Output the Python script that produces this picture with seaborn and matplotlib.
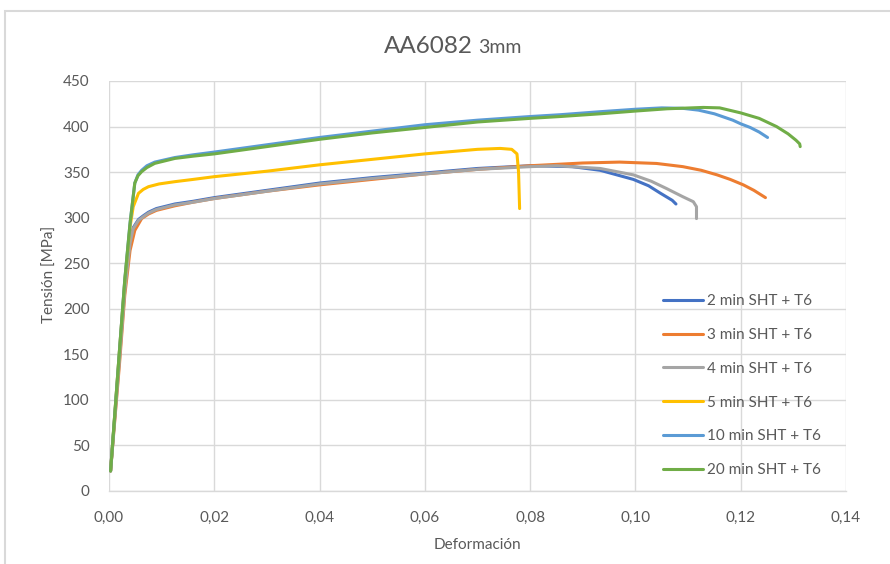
import numpy as np
import pandas as pd
import matplotlib
matplotlib.use("Agg")
import matplotlib.pyplot as plt
from matplotlib.patches import Rectangle
from matplotlib.ticker import FuncFormatter, MultipleLocator
import seaborn as sns

# Stress-strain curves, AA6082 3 mm, different solution heat treatment times
series_names = ["2 min SHT + T6", "3 min SHT + T6", "4 min SHT + T6",
                "5 min SHT + T6", "10 min SHT + T6", "20 min SHT + T6"]

strain_2 = [0.0003, 0.002, 0.003, 0.004, 0.0046, 0.0056, 0.0065, 0.0075, 0.009, 0.0125,
            0.016, 0.02, 0.03, 0.04, 0.05, 0.06, 0.07, 0.08, 0.088, 0.0933, 0.0996,
            0.1025, 0.1047, 0.107, 0.1077]
stress_2 = [22, 150, 225, 275, 289, 298, 302, 306, 310, 315,
            318, 322, 330, 338, 344, 349, 354, 357, 356, 352, 342,
            335, 327, 319, 315]

strain_3 = [0.0003, 0.002, 0.003, 0.004, 0.0049, 0.0062, 0.0075, 0.009, 0.0125, 0.016,
            0.02, 0.03, 0.04, 0.05, 0.06, 0.07, 0.08, 0.09, 0.097, 0.104, 0.109,
            0.1125, 0.1155, 0.118, 0.1205, 0.1225, 0.1247]
stress_3 = [22, 140, 215, 264, 286, 299, 304, 308, 313, 317,
            321, 329, 336, 342, 348, 353, 357, 360, 361, 359.5, 356,
            352, 347, 342, 336, 330, 322]

strain_4 = [0.0003, 0.002, 0.003, 0.004, 0.0046, 0.0056, 0.0065, 0.0075, 0.009, 0.0125,
            0.016, 0.02, 0.03, 0.04, 0.05, 0.06, 0.07, 0.08, 0.085, 0.0933, 0.0996,
            0.103, 0.1059, 0.109, 0.111, 0.1116, 0.1116]
stress_4 = [22, 145, 220, 272, 288, 297, 301, 305, 309, 314,
            317, 321, 329, 337, 343, 348, 353, 356, 357, 354, 347,
            340, 332, 323, 317.5, 312, 299]

strain_5 = [0.0003, 0.002, 0.003, 0.004, 0.0046, 0.0056, 0.0065, 0.0075, 0.0095, 0.0125,
            0.016, 0.02, 0.03, 0.04, 0.05, 0.06, 0.066, 0.07, 0.0743, 0.0765, 0.0775,
            0.0778, 0.0779, 0.078]
stress_5 = [22, 155, 230, 290, 312, 326.7, 331, 334, 337, 339.5,
            342, 345, 351, 358, 364, 370, 373, 375, 376, 375, 370,
            350, 330, 310]

strain_10 = [0.0003, 0.002, 0.003, 0.004, 0.0049, 0.0055, 0.0062, 0.0072, 0.0087, 0.0125,
             0.016, 0.02, 0.03, 0.04, 0.05, 0.06, 0.07, 0.08, 0.0857, 0.0933, 0.1,
             0.105, 0.109, 0.112, 0.115, 0.1185, 0.12, 0.1218, 0.1235, 0.1251]
stress_10 = [22, 155, 232, 294, 338, 347, 352, 357, 361, 366,
             369, 372, 380, 388, 395, 402, 407, 411, 413, 416.3, 419,
             420.5, 420, 418, 414, 407, 403, 399, 394, 388]

strain_20 = [0.0003, 0.002, 0.003, 0.004, 0.0049, 0.0055, 0.0062, 0.0072, 0.0087, 0.0125,
             0.016, 0.02, 0.03, 0.04, 0.05, 0.06, 0.07, 0.08, 0.0857, 0.0933, 0.1,
             0.106, 0.1129, 0.116, 0.12, 0.1235, 0.1268, 0.129, 0.1305, 0.1312, 0.1313]
stress_20 = [22, 155, 232, 294, 338, 346, 350.5, 355, 359.6, 365,
             367.5, 370, 378, 386, 393, 399, 405, 409, 411, 414, 417,
             419.5, 421, 420.5, 415, 409, 400, 392, 385, 381, 378]

colors = ["#4472C4", "#ED7D31", "#A5A5A5", "#FFC000", "#5B9BD5", "#70AD47"]

curves = [(strain_2, stress_2), (strain_3, stress_3), (strain_4, stress_4),
          (strain_5, stress_5), (strain_10, stress_10), (strain_20, stress_20)]

frames = []
for name, (sx, sy) in zip(series_names, curves):
    frames.append(pd.DataFrame({"Deformación": sx, "Tensión": sy, "serie": name}))
df = pd.concat(frames, ignore_index=True)

sns.set_style("white")
plt.rcParams["font.family"] = ["Lato", "DejaVu Sans"]
text_color = "#595959"
grid_color = "#D9D9D9"

fig = plt.figure(figsize=(8.9, 5.64), dpi=100)
ax = fig.add_axes([109 / 890, 1 - 491 / 564, (846 - 109) / 890, (491 - 81) / 564])

sns.lineplot(data=df, x="Deformación", y="Tensión", hue="serie",
             hue_order=series_names, palette=dict(zip(series_names, colors)),
             sort=False, estimator=None, units="serie", linewidth=2.2, ax=ax)
for line in ax.get_lines():
    line.set_solid_joinstyle("round")
    line.set_solid_capstyle("round")

ax.set_xlim(0, 0.14)
ax.set_ylim(0, 450)
ax.xaxis.set_major_locator(MultipleLocator(0.02))
ax.yaxis.set_major_locator(MultipleLocator(50))
ax.xaxis.set_major_formatter(FuncFormatter(lambda v, p: f"{v:.2f}".replace(".", ",")))
ax.yaxis.set_major_formatter(FuncFormatter(lambda v, p: f"{v:.0f}"))
ax.grid(True, color=grid_color, linewidth=1.0)
ax.set_axisbelow(True)
for side in ["top", "right", "left"]:
    ax.spines[side].set_visible(False)
ax.spines["bottom"].set_color(grid_color)
ax.spines["bottom"].set_linewidth(1.0)
ax.tick_params(axis="both", length=0, labelsize=11, colors=text_color)
ax.tick_params(axis="x", pad=14)
ax.tick_params(axis="y", pad=14)

ax.set_xlabel("Deformación", fontsize=11, color=text_color, labelpad=10)
ax.set_ylabel("")
fig.text(50 / 890, 1 - 274 / 564, "Tensión [MPa]", rotation=90, fontsize=11,
         color=text_color, ha="center", va="center")

# Title in two sizes
fig.text(473 / 890, 1 - 53 / 564, "AA6082", fontsize=17.5, color=text_color,
         ha="right", va="baseline")
fig.text(478 / 890, 1 - 53 / 564, "3mm", fontsize=14, color=text_color,
         ha="left", va="baseline")

handles, labels = ax.get_legend_handles_labels()
ax.legend(handles, labels, loc="upper left", bbox_to_anchor=(663 / 890, 1 - 294 / 564),
          bbox_transform=fig.transFigure, frameon=False, fontsize=11,
          labelcolor=text_color, handlelength=2.6, handletextpad=0.3,
          labelspacing=1.3, borderpad=0, borderaxespad=0)

# Chart area border
fig.patches.append(Rectangle((5 / 890, -0.1), 1.2, 1 - 11 / 564 + 0.1,
                             transform=fig.transFigure, fill=False,
                             edgecolor=grid_color, linewidth=1.5))

fig.savefig("out.png", dpi=100, facecolor="white")
